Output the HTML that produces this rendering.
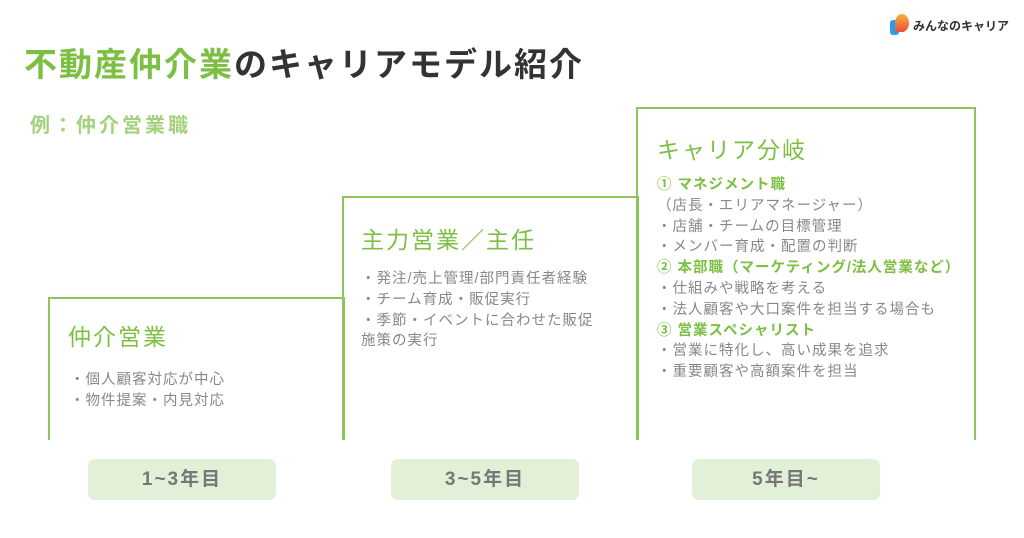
<!DOCTYPE html>
<html><head><meta charset="utf-8"><style>
*{margin:0;padding:0;box-sizing:border-box}
body{width:1024px;height:538px;background:#fff;position:relative;overflow:hidden;font-family:"Liberation Sans","Noto Sans CJK JP",sans-serif}
.a{position:absolute}
.box{position:absolute;border:2px solid #8cc55a;border-bottom:none}
.h{position:absolute;color:#7cbf43;font-size:23px;letter-spacing:2px;white-space:nowrap}
.t{position:absolute;color:#888;font-size:14.5px;letter-spacing:1px;line-height:20.8px;white-space:nowrap}
.g{color:#7cbf43;font-weight:bold}
.lab{position:absolute;top:459px;height:41px;background:#e3f0d8;border-radius:7px;color:#777;font-weight:bold;font-size:19px;letter-spacing:2px;text-align:center;line-height:41px}
</style></head><body>
<div class="a" style="left:890px;top:14px;width:20px;height:22px">
<div class="a" style="left:0;top:6px;width:9px;height:15px;background:#2a9ee8;border-radius:3px"></div>
<div class="a" style="left:5px;top:0;width:14px;height:18px;background:linear-gradient(#f7b23b,#ea4d3a);border-radius:50% 50% 50% 20%"></div>
</div>
<div class="a" style="left:913px;top:17px;font-size:12px;font-weight:bold;color:#333;white-space:nowrap">みんなのキャリア</div>
<div class="a" style="left:24px;top:38px;font-size:33px;font-weight:bold;color:#333;white-space:nowrap;letter-spacing:2px"><span style="color:#7cbf43">不動産仲介業</span>のキャリアモデル紹介</div>
<div class="a" style="left:30px;top:109px;font-size:20px;font-weight:bold;color:#a3d17c;white-space:nowrap;letter-spacing:3px">例：仲介営業職</div>

<div class="box" style="left:48px;top:297px;width:297px;height:143px"></div>
<div class="box" style="left:342px;top:196px;width:297px;height:244px"></div>
<div class="box" style="left:636px;top:107px;width:340px;height:333px"></div>

<div class="h" style="left:68px;top:318px">仲介営業</div>
<div class="t" style="left:70px;top:370px">・個人顧客対応が中心<br>・物件提案・内見対応</div>

<div class="h" style="left:361px;top:221px">主力営業／主任</div>
<div class="t" style="left:361px;top:269px">・発注/売上管理/部門責任者経験<br>・チーム育成・販促実行<br>・季節・イベントに合わせた販促<br>施策の実行</div>

<div class="h" style="left:657px;top:131px">キャリア分岐</div>
<div class="t" style="left:657px;top:175px"><span class="g">① マネジメント職</span><br>（店長・エリアマネージャー）<br>・店舗・チームの目標管理<br>・メンバー育成・配置の判断<br><span class="g">② 本部職（マーケティング/法人営業など）</span><br>・仕組みや戦略を考える<br>・法人顧客や大口案件を担当する場合も<br><span class="g">③ 営業スペシャリスト</span><br>・営業に特化し、高い成果を追求<br>・重要顧客や高額案件を担当</div>

<div class="lab" style="left:88px;width:188px">1~3年目</div>
<div class="lab" style="left:391px;width:188px">3~5年目</div>
<div class="lab" style="left:692px;width:188px">5年目~</div>
</body></html>
